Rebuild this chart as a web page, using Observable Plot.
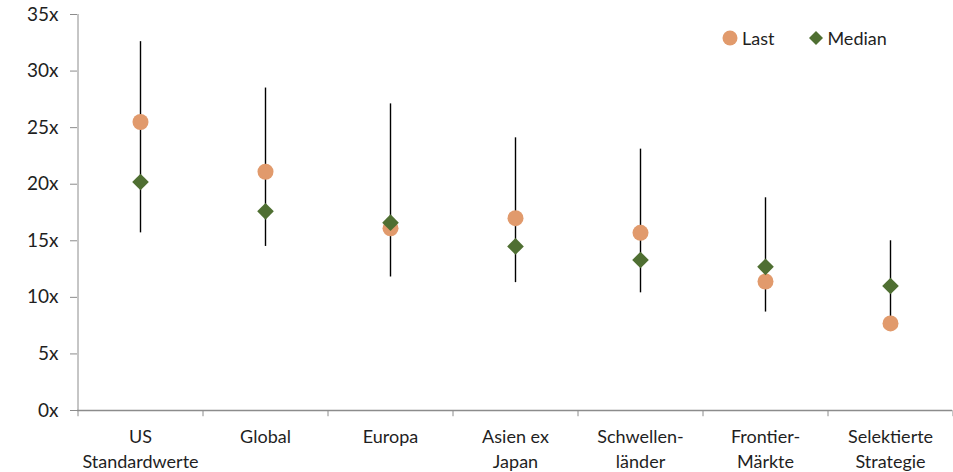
<!DOCTYPE html>
<html>
<head>
<meta charset="utf-8">
<script src="https://cdn.jsdelivr.net/npm/d3@7"></script>
<script src="https://cdn.jsdelivr.net/npm/@observablehq/plot@0.6"></script>
<style>
  html, body { margin: 0; padding: 0; background: #fff; }
  #wrap { position: relative; width: 953px; height: 472px; font-family: Lato, "Open Sans", sans-serif; }
  #legend { position: absolute; top: 27px; left: 721px; font-size: 18px; color: #1f1f1f; display: flex; align-items: center; }
  #legend .item { display: flex; align-items: center; }
  #legend svg { display: block; }
</style>
</head>
<body>
<div id="wrap">
  <div id="chart"></div>
  <div id="legend">
    <div class="item"><svg width="18" height="18"><circle cx="9" cy="9" r="7.5" fill="#E19A6C"/></svg><span style="margin-left:3px">Last</span></div>
    <div class="item" style="margin-left:33px"><svg width="18" height="18"><path d="M9 2 L16 9 L9 16 L2 9 Z" fill="#4F6F32"/></svg><span style="margin-left:2px">Median</span></div>
  </div>
</div>
<script>
const categories = ["US Standardwerte", "Global", "Europa", "Asien ex Japan", "Schwellenländer", "Frontier-Märkte", "Selektierte Strategie"];
const labels = ["US\nStandardwerte", "Global", "Europa", "Asien ex\nJapan", "Schwellen-\nländer", "Frontier-\nMärkte", "Selektierte\nStrategie"];
const lastValues = [25.5, 21.1, 16.1, 17.0, 15.7, 11.4, 7.7];
const medianValues = [20.2, 17.6, 16.6, 14.5, 13.3, 12.7, 11.0];
const maxValues = [32.6, 28.5, 27.1, 24.1, 23.1, 18.8, 15.0];
const minValues = [15.7, 14.5, 11.8, 11.3, 10.4, 8.7, 7.7];
const yTicks = [0, 5, 10, 15, 20, 25, 30, 35];

const data = categories.map((c, i) => ({
  cat: c, label: labels[i], last: lastValues[i], median: medianValues[i], max: maxValues[i], min: minValues[i]
}));

const axisColor = "#8c8c8c";
const textColor = "#1f1f1f";
const step = 875 / categories.length;

const plot = Plot.plot({
  width: 953,
  height: 472,
  marginLeft: 77,
  marginRight: 1,
  marginTop: 14,
  marginBottom: 62,
  style: { fontFamily: "Lato, 'Open Sans', sans-serif", fontSize: "18px", color: textColor, background: "#fff" },
  x: { type: "point", domain: categories, padding: 0.5, axis: null },
  y: { type: "linear", domain: [0, 35], axis: null },
  marks: [
    Plot.ruleX([categories[0]], { dx: -step / 2, y1: 0, y2: 35, stroke: axisColor, strokeWidth: 1 }),
    Plot.axisY({ ticks: yTicks, tickSize: 7, tickPadding: 12, tickFormat: d => d + "x", stroke: axisColor, fill: textColor, fontSize: 19 }),
    Plot.ruleY([0], { stroke: axisColor, strokeWidth: 1.3 }),
    Plot.ruleX(categories, { x: d => d, dx: -step / 2, y1: 0, y2: -0.55, stroke: axisColor }),
    Plot.ruleX([categories[categories.length - 1]], { dx: step / 2, y1: 0, y2: -0.55, stroke: axisColor }),
    Plot.ruleX(data, { x: "cat", y1: "min", y2: "max", stroke: "#000", strokeWidth: 1.4 }),
    Plot.dot(data, { x: "cat", y: "last", r: 8, fill: "#E19A6C", stroke: "none" }),
    Plot.dot(data, { x: "cat", y: "median", r: 7.5, symbol: "diamond2", fill: "#4F6F32", stroke: "none" }),
    Plot.text(data, { x: "cat", text: "label", frameAnchor: "bottom", dy: 15, lineAnchor: "top", lineHeight: 1.38, fill: textColor, fontSize: 18 })
  ]
});
document.getElementById("chart").appendChild(plot);
</script>
</body>
</html>
